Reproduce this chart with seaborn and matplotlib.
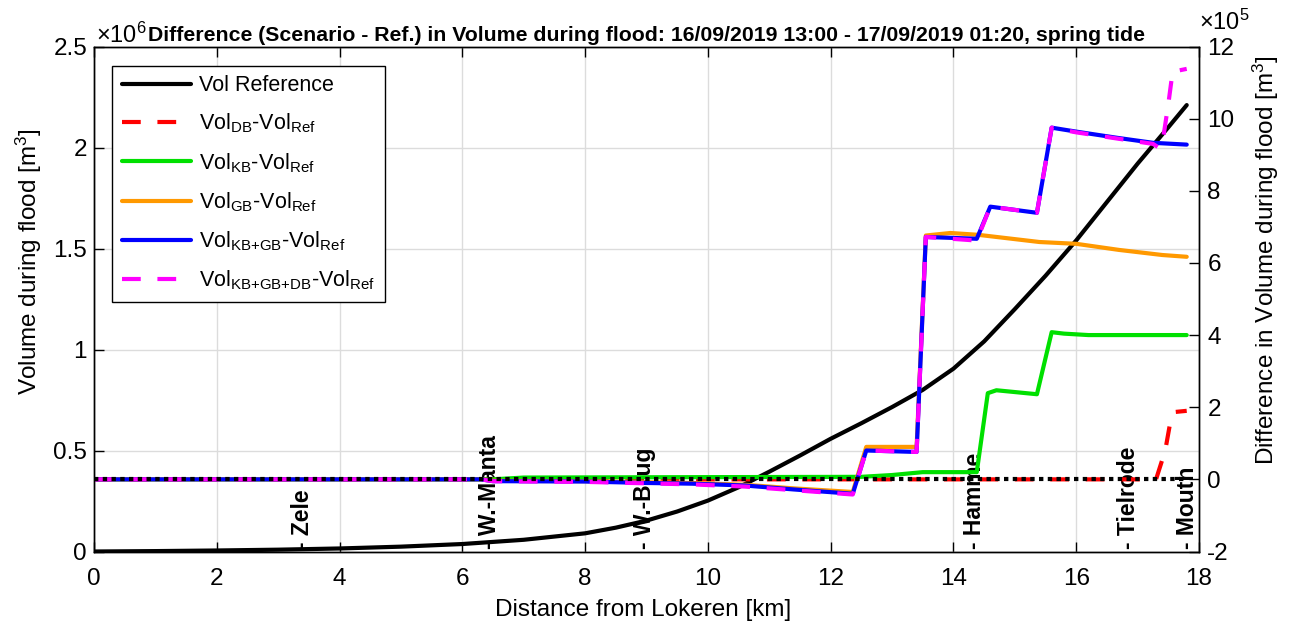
import matplotlib
matplotlib.use("Agg")
import matplotlib.pyplot as plt
import seaborn as sns

# Distance from Lokeren (km) and reference flood volume (x 1e6 m^3)
km_ref = [0, 1, 2, 3, 4, 5, 6, 7, 8, 8.5, 9, 9.5, 10, 10.5, 11, 11.5, 12,
          12.5, 13, 13.5, 14, 14.5, 15, 15.5, 16, 16.5, 17, 17.5, 17.8]
vol_ref = [0, 0.002, 0.005, 0.009, 0.015, 0.024, 0.037, 0.058, 0.09, 0.118,
           0.153, 0.198, 0.252, 0.318, 0.395, 0.475, 0.558, 0.635, 0.715,
           0.8, 0.905, 1.04, 1.2, 1.365, 1.54, 1.73, 1.92, 2.1, 2.21]

# Volume differences, scenario minus reference (x 1e5 m^3)
km_db = [0, 17.3, 17.45, 17.55, 17.62, 17.8]
diff_db = [0, 0, 0.8, 1.75, 1.87, 1.9]

km_kb = [0, 6.5, 7.0, 9.5, 12.5, 13.0, 13.5, 14.38, 14.56, 14.7, 15.36,
         15.6, 15.8, 16.2, 17.8]
diff_kb = [0, 0, 0.05, 0.06, 0.07, 0.12, 0.2, 0.2, 2.39, 2.47, 2.36,
           4.08, 4.04, 4.0, 4.0]

km_gb = [0, 6.3, 6.5, 8, 9, 9.75, 10.6, 11.4, 12.36, 12.58, 13.4, 13.55,
         13.95, 14.4, 15.4, 16.0, 16.7, 17.4, 17.8]
diff_gb = [0, 0, -0.04, -0.05, -0.08, -0.1, -0.15, -0.25, -0.35, 0.9, 0.9,
           6.76, 6.83, 6.78, 6.58, 6.53, 6.36, 6.22, 6.17]

km_kbgb = [0, 6.3, 6.5, 8, 9, 9.75, 10.6, 11.4, 12.36, 12.58, 13.4, 13.55,
           14.38, 14.6, 15.36, 15.6, 16.0, 16.66, 17.25, 17.8]
diff_kbgb = [0, 0, -0.05, -0.06, -0.1, -0.12, -0.17, -0.28, -0.4, 0.8, 0.76,
             6.72, 6.67, 7.56, 7.39, 9.75, 9.64, 9.47, 9.33, 9.28]

km_kbgbdb = [0, 6.3, 6.5, 8, 9, 9.75, 10.6, 11.4, 12.36, 12.58, 13.4, 13.55,
             14.38, 14.6, 15.36, 15.6, 16.0, 16.66, 17.25, 17.36, 17.42,
             17.5, 17.57, 17.8]
diff_kbgbdb = [0, 0, -0.05, -0.07, -0.11, -0.14, -0.2, -0.3, -0.42, 0.8,
               0.76, 6.72, 6.62, 7.56, 7.39, 9.75, 9.62, 9.45, 9.3, 9.18,
               9.5, 10.4, 11.3, 11.38]

legend_labels = [
    "Vol Reference",
    r"Vol$_{\mathrm{DB}}$-Vol$_{\mathrm{Ref}}$",
    r"Vol$_{\mathrm{KB}}$-Vol$_{\mathrm{Ref}}$",
    r"Vol$_{\mathrm{GB}}$-Vol$_{\mathrm{Ref}}$",
    r"Vol$_{\mathrm{KB{+}GB}}$-Vol$_{\mathrm{Ref}}$",
    r"Vol$_{\mathrm{KB{+}GB{+}DB}}$-Vol$_{\mathrm{Ref}}$",
]

stations = ["Zele", "W.-Manta", "W.-Brug", "Hamme", "Tielrode", "Mouth"]
station_km = [3.4, 6.45, 8.97, 14.35, 16.85, 17.82]

left_ticks = [0, 0.5, 1, 1.5, 2, 2.5]
right_ticks = [-2, 0, 2, 4, 6, 8, 10, 12]
x_ticks = [0, 2, 4, 6, 8, 10, 12, 14, 16, 18]

sns.set_theme(style="white", rc={
    "axes.edgecolor": "black",
    "axes.linewidth": 1.0,
    "xtick.color": "black",
    "ytick.color": "black",
    "text.color": "black",
    "axes.labelcolor": "black",
})
plt.rcParams["font.family"] = ["Liberation Sans", "DejaVu Sans"]
plt.rcParams["mathtext.fontset"] = "custom"
plt.rcParams["mathtext.rm"] = "Liberation Sans"
plt.rcParams["mathtext.it"] = "Liberation Sans:italic"
plt.rcParams["mathtext.bf"] = "Liberation Sans:bold"

W, H = 1292, 626
fig = plt.figure(figsize=(W / 100, H / 100), dpi=100)
ax = fig.add_axes([94 / W, 1 - 551.5 / H, 1105 / W, 505 / H])
ax2 = ax.twinx()

LW = 3.0
# Reference volume on the left axis
sns.lineplot(x=km_ref, y=vol_ref, ax=ax, color="black", linewidth=LW,
             estimator=None, sort=False, legend=False)
h_ref = ax.lines[-1]

# Scenario differences on the right axis
series = [
    (km_db, diff_db, "#ff0000", (0, (4.5, 4.0))),
    (km_kb, diff_kb, "#00e000", "-"),
    (km_gb, diff_gb, "#ff9900", "-"),
    (km_kbgb, diff_kbgb, "#0000ff", "-"),
    (km_kbgbdb, diff_kbgbdb, "#ff00ff", (0, (4.5, 4.0))),
]
handles = [h_ref]
for xs, ys, col, ls in series:
    sns.lineplot(x=xs, y=ys, ax=ax2, color=col, linewidth=LW, linestyle=ls,
                 estimator=None, sort=False, legend=False)
    handles.append(ax2.lines[-1])

# Zero-difference line
x_span = [min(km_ref), max(km_kbgbdb)]
sns.lineplot(x=x_span, y=[0, 0], ax=ax2, color="black", linewidth=LW,
             linestyle=(0, (1.05, 1.05)), estimator=None, sort=False,
             legend=False)

# Axes limits, ticks and grid
ax.set_xlim(0, 18)
ax.set_ylim(0, 2.5)
ax2.set_ylim(-2, 12)
ax.set_xticks(x_ticks)
ax.set_xticklabels([f"{t:g}" for t in x_ticks])
ax.set_yticks(left_ticks)
ax.set_yticklabels([f"{t:g}" for t in left_ticks])
ax2.set_yticks(right_ticks)
ax2.set_yticklabels([f"{t:g}" for t in right_ticks])

ax.grid(True, color="#dcdcdc", linewidth=1.0)
ax2.grid(False)
ax.set_axisbelow(True)

TICK_FS = 17.5
ax.tick_params(axis="x", direction="in", length=7, width=1, top=True,
               bottom=True, labelsize=TICK_FS, pad=12)
ax.tick_params(axis="y", direction="in", length=7, width=1, left=True,
               right=False, labelsize=TICK_FS, pad=5)
ax2.tick_params(axis="y", direction="in", length=7, width=1, right=True,
                left=False, labelsize=TICK_FS, pad=6)
for sp in list(ax.spines.values()) + list(ax2.spines.values()):
    sp.set_color("black")
    sp.set_linewidth(1.0)

# Labels
ax.set_xlabel("Distance from Lokeren [km]", fontsize=17.5)
ax.xaxis.set_label_coords(0.497, -0.094)
ax.set_ylabel(r"Volume during flood [m$^3$]", fontsize=17.5)
ax.yaxis.set_label_coords(-0.045, 0.574)
ax2.set_ylabel(r"Difference in Volume during flood [m$^3$]", fontsize=17.5)
ax2.yaxis.set_label_coords(1.047, 0.576)

ax.set_title("Difference (Scenario - Ref.) in Volume during flood: "
             "16/09/2019 13:00 - 17/09/2019 01:20, spring tide",
             fontsize=15.3, fontweight="bold", pad=4)

ax.text(0.002, 1.008, "×10$^{6}$", transform=ax.transAxes, ha="left",
        va="baseline", fontsize=17)
ax2.text(1.0, 1.032, "×10$^{5}$", transform=ax2.transAxes, ha="left",
         va="baseline", fontsize=17)

# Station markers along the channel
for name, km in zip(stations, station_km):
    ax.text(km, 0.012, f"- {name}", rotation=90, ha="center", va="bottom",
            fontsize=16.5, fontweight="bold", color="black", zorder=5)

leg = ax2.legend(handles, legend_labels, loc="upper left",
                 bbox_to_anchor=(0.0163, 0.962), borderaxespad=0,
                 fontsize=15.5, frameon=True, fancybox=False, framealpha=1,
                 edgecolor="black", handlelength=3.2, handletextpad=0.4,
                 labelspacing=0.72, borderpad=0.45)
leg.get_frame().set_linewidth(1.0)

fig.savefig("out.png", dpi=100)
